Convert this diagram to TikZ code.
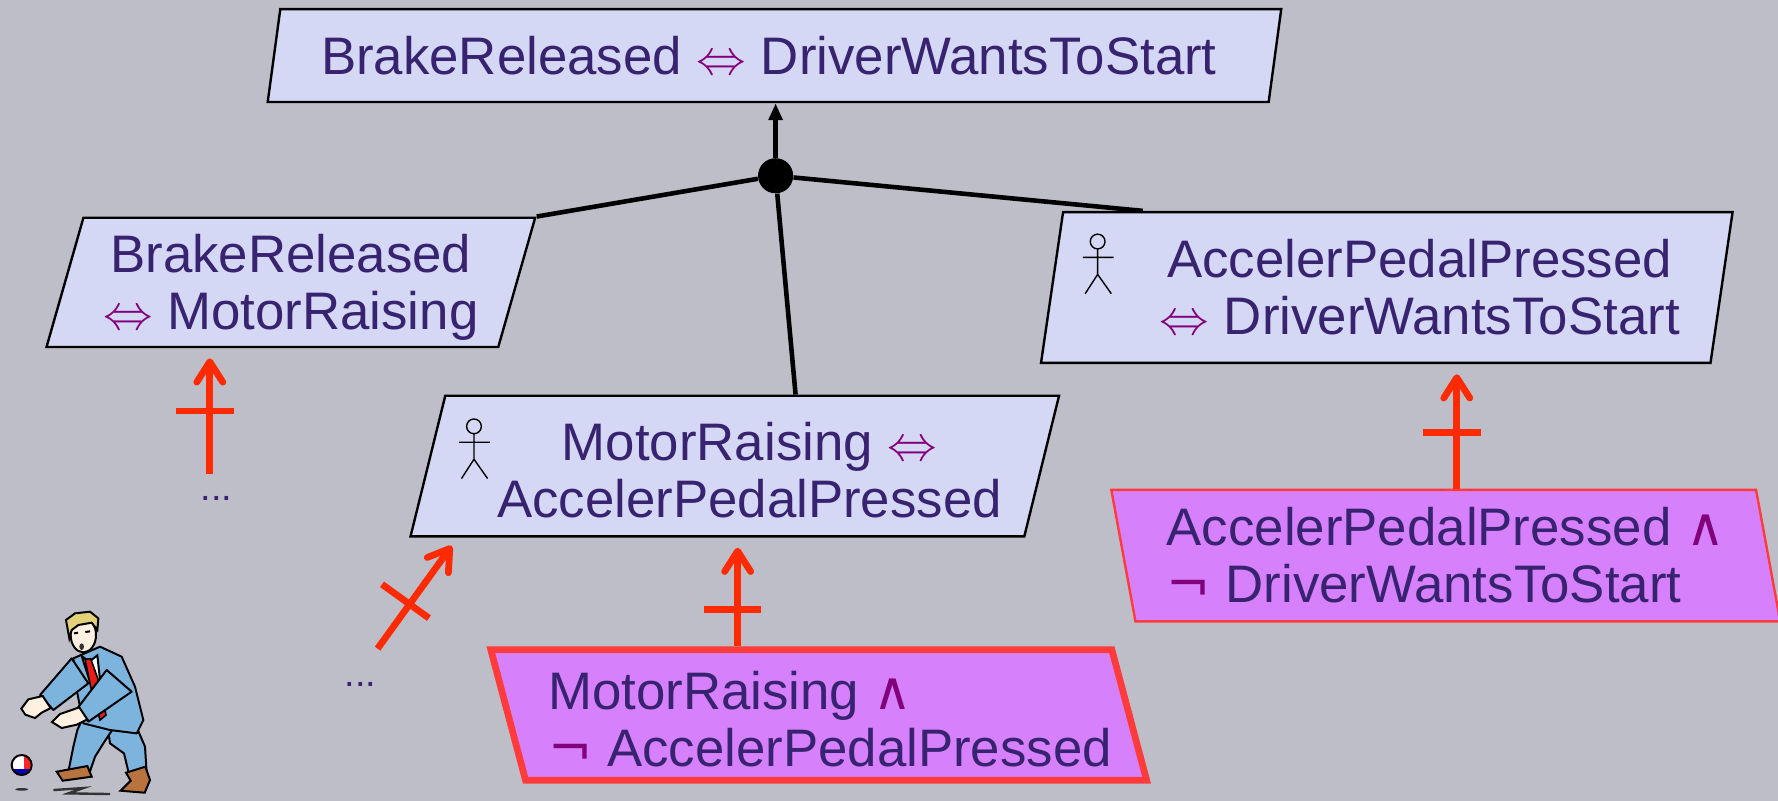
\documentclass[tikz,border=0pt]{standalone}
\usepackage{fontspec}
\setmainfont{Liberation Sans}
\newfontfamily\symfont{DejaVu Sans}
\usepackage{xcolor}
\usetikzlibrary{arrows.meta,shapes.geometric,calc,decorations.markings}
\definecolor{bggray}{HTML}{BEBEC9}
\definecolor{goalfill}{HTML}{D5D8F4}
\definecolor{obsfill}{HTML}{D780FC}
\definecolor{obsborder}{HTML}{FF3B3B}
\definecolor{obsred}{HTML}{FF2A00}
\definecolor{ink}{HTML}{37236F}
\definecolor{oppurple}{HTML}{82007A}
\definecolor{suitblue}{HTML}{7DB4DE}
\definecolor{skin}{HTML}{FFF0E0}
\definecolor{hair}{HTML}{E3D17A}
\definecolor{shoe}{HTML}{B8733F}
\definecolor{tiered}{HTML}{E81C1C}
% logical operators
\newcommand{\eqv}{\textcolor{oppurple}{$\Leftrightarrow$}}
\newcommand{\conj}{{\symfont\textcolor{oppurple}{∧}}}
\newcommand{\negn}{{\symfont\textcolor{oppurple}{¬}}}
% two lines, pushed right by #2 and down by #3
\newcommand{\boxlines}[5]{\raisebox{-#3}[\height][\depth]{\begin{tabular}{@{\hspace{#2}}#1@{}}#4\\#5\end{tabular}}}
\tikzset{
  txt/.style={text=ink,font=\fontsize{26.5}{28.5}\selectfont,inner sep=0pt},
  goal/.style={trapezium,trapezium stretches body,draw=black,line width=1.2pt,fill=goalfill,
               txt,trapezium left angle=#1,trapezium right angle=180-#1},
  obst/.style={goal=#1,fill=obsfill,draw=obsborder},
  dots/.style={text=ink,font=\fontsize{19}{20}\selectfont,inner sep=1pt},
  link/.style={line width=2.3pt,black},
  obstr/.style={draw=obsred,line width=3.4pt,-{Straight Barb[length=0.36cm,width=0.46cm,round]},
                shorten >=0.18cm,
                postaction={decorate,decoration={markings,mark=at position #1 with
                  {\draw[obsred,line width=3.4pt,-] (0,-30) -- (0,30);}}}},
  actor/.pic={\draw[line width=0.7pt] (0,0) circle (6.5);
              \draw[line width=0.7pt] (0,6.5) -- (0,29) (-13,14) -- (14,14) (-11,46) -- (0,29) -- (12,46);},
  suit/.style={fill=suitblue,draw=black,line width=1pt,line join=round},
}
\begin{document}
\begin{tikzpicture}[x=0.02cm,y=-0.02cm]
  \fill[bggray] (0,0) rectangle (1568,706);
  \useasboundingbox (0,0) rectangle (1568,706);

  % goals
  \node[goal=72,minimum width=17.88cm,minimum height=1.64cm] (top) at (683,49)
    {\hspace*{-0.2cm}BrakeReleased \eqv{} DriverWantsToStart};
  \node[goal=72,minimum width=8.62cm,minimum height=2.28cm] (lbox) at (256.5,249)
    {\boxlines{c}{0pt}{0.13cm}{BrakeReleased}{\eqv{} MotorRaising}};
  \node[goal=79,minimum width=12.2cm,minimum height=2.66cm] (rbox) at (1223,253.5)
    {\boxlines{c}{1.16cm}{0.12cm}{AccelerPedalPressed}{\eqv{} DriverWantsToStart}};
  \pic at (968,213) {actor};
  \node[goal=73,minimum width=11.44cm,minimum height=2.48cm] (mbox) at (648,411)
    {\boxlines{c}{0.52cm}{0.2cm}{MotorRaising \eqv}{AccelerPedalPressed}};
  \pic at (418,376) {actor};

  % obstacles
  \node[obst=102,line width=1.2pt,minimum width=11.8cm,minimum height=2.32cm] (rpink) at (1275,490)
    {\boxlines{l}{0pt}{0.13cm}{AccelerPedalPressed \conj}{\negn{} DriverWantsToStart}};
  \node[obst=107,line width=3.4pt,minimum width=11.5cm,minimum height=2.3cm] (mpink) at (722,630.5)
    {\boxlines{l}{0.4cm}{0.2cm}{MotorRaising \conj}{\negn{} AccelerPedalPressed}};

  % and-refinement
  \node[circle,fill=black,minimum size=0.62cm,inner sep=0pt] (jn) at (684,155) {};
  \draw[link] (jn) -- (lbox.top right corner);
  \draw[link] (jn) -- ($(rbox.top left corner)!0.12!(rbox.top right corner)$);
  \draw[link] (jn) -- ($(mbox.top left corner)!0.57!(mbox.top right corner)$);
  \draw[link,-{Triangle[length=0.3cm,width=0.24cm]}] (jn) -- (jn |- top.south);

  % obstructions
  \node[dots] (dotsA) at (191,440) {...};
  \node[dots] (dotsB) at (318,604) {...};
  \coordinate (o1) at (185,418);
  \draw[obstr=0.5] (o1) -- (o1 |- lbox.south);
  \coordinate (o2) at ($(mpink.top left corner)!0.4!(mpink.top right corner)$);
  \draw[obstr=0.34] (o2) -- (o2 |- mbox.south);
  \coordinate (o3) at ($(rpink.top left corner)!0.536!(rpink.top right corner)$);
  \draw[obstr=0.45] (o3) -- (o3 |- rbox.south);
  \coordinate (o4) at (333,572);
  \draw[obstr=0.4] (o4) -- ($(mbox.bottom left corner)!0.079!(mbox.bottom right corner)$);

  % man chasing the ball
  \begin{scope}[shift={(0,511.5)},scale=0.294]
    \draw[line width=1.2pt,black!80] (160,630) -- (250,624) -- (205,640) -- (330,642);
    \fill[black!80] (65,628) ellipse (20 and 4);
    \filldraw[suit] (320,420) -- (405,430) -- (435,500) -- (440,580) -- (390,595) -- (372,520) -- (330,490) -- cycle;
    \filldraw[suit] (250,410) -- (340,445) -- (310,490) -- (285,530) -- (268,580) -- (205,575) -- (220,500) -- (232,450) -- cycle;
    \filldraw[suit] (220,235) -- (300,200) -- (365,230) -- (405,320) -- (430,420) -- (410,460) -- (330,450) -- (250,430) -- (230,330) -- cycle;
    \filldraw[white,draw=black,line width=1pt] (245,228) -- (268,245) -- (292,226) -- (300,300) -- (278,330) -- cycle;
    \filldraw[tiered,draw=black,line width=0.8pt] (255,238) -- (272,236) -- (295,300) -- (318,405) -- (300,420) -- (272,320) -- cycle;
    \filldraw[suit] (215,235) -- (265,310) -- (160,390) -- (120,345) -- cycle;
    \filldraw[skin,draw=black,line width=1pt] (128,348) -- (152,384) -- (125,398) -- (105,414) -- (76,404) -- (64,386) -- (85,358) -- cycle;
    \filldraw[suit] (320,270) -- (395,335) -- (265,425) -- (232,385) -- cycle;
    \filldraw[skin,draw=black,line width=1pt] (238,382) -- (262,418) -- (230,434) -- (185,444) -- (156,426) -- (180,402) -- cycle;
    \filldraw[skin,draw=black,line width=1pt] (250,165) ellipse (38 and 52);
    \filldraw[hair,draw=black,line width=1pt] (198,120) -- (225,100) -- (270,95) -- (295,115) -- (292,150) -- (275,128) -- (235,135) -- (215,150) -- (208,175) -- cycle;
    \fill[black!80] (245,200) ellipse (7 and 10);
    \draw[line width=1pt] (222,160) -- (234,158) (256,156) -- (270,154);
    \filldraw[shoe,draw=black,line width=1pt] (170,575) -- (262,558) -- (275,590) -- (188,602) -- cycle;
    \filldraw[shoe,draw=black,line width=1pt] (378,578) -- (436,560) -- (450,600) -- (434,638) -- (362,632) -- (392,602) -- cycle;
    \begin{scope}
      \clip (65,555) circle (30);
      \fill[white] (65,555) circle (30);
      \fill[red!85] (72,520) rectangle (100,590);
      \fill[blue!70!black] (35,568) rectangle (100,590);
    \end{scope}
    \draw[line width=1pt] (65,555) circle (30);
  \end{scope}
\end{tikzpicture}
\end{document}
